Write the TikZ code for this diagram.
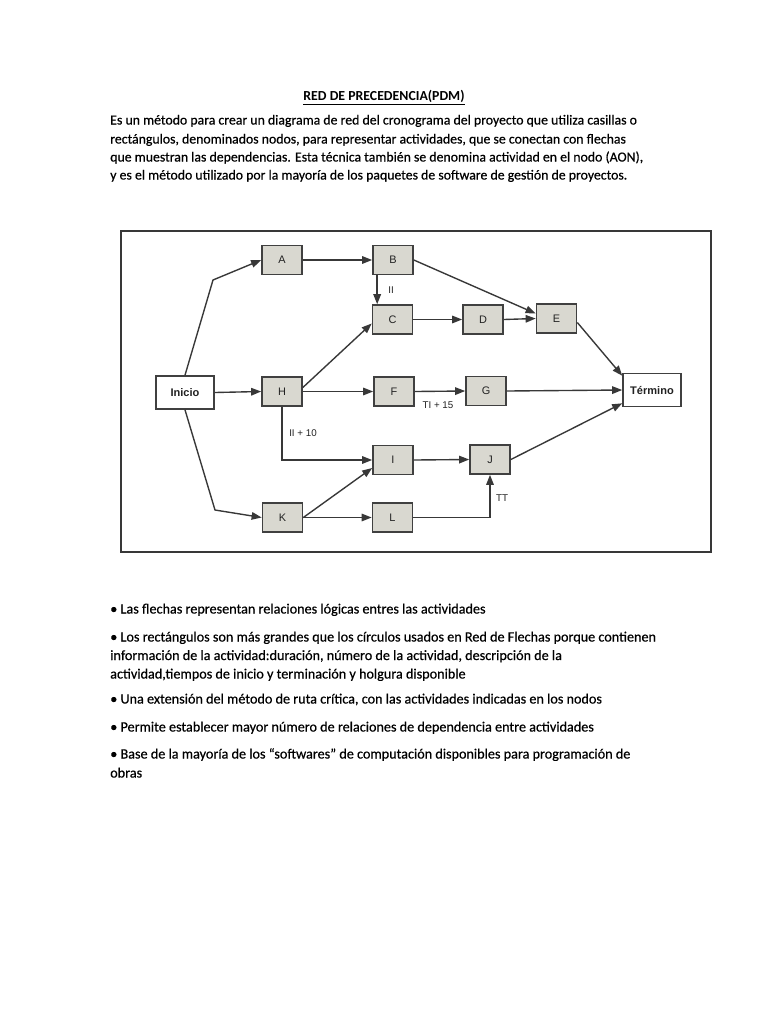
\documentclass[tikz,border=0pt]{standalone}
\usepackage{fontspec}
\setmainfont{Carlito}
\newfontfamily\scanfont{Carlito}[FakeBold=0.5]
\newfontfamily\arialf{Liberation Sans}
\usetikzlibrary{arrows.meta,calc}
\definecolor{boxfill}{HTML}{D9D8D0}
\definecolor{boxline}{HTML}{404040}
\definecolor{arrc}{HTML}{383838}
\definecolor{txtc}{HTML}{222222}
\begin{document}
\begin{tikzpicture}[x=0.797pt,y=0.797pt,
  act/.style={draw=boxline, fill=boxfill, line width=1.3pt, minimum width=31.9pt, minimum height=23.1pt, inner sep=0pt, font=\arialf\fontsize{8.7}{10}\selectfont, text=txtc},
  term/.style={act, fill=white, minimum width=46.2pt, minimum height=26.3pt, font=\arialf\bfseries\fontsize{8.8}{10}\selectfont},
  arr/.style={draw=arrc, line width=1.1pt, -{Stealth[length=8pt,width=6pt,inset=0pt]}},
  lbl/.style={font=\arialf\fontsize{7.8}{9}\selectfont, text=txtc, inner sep=0pt},
  body/.style={anchor=base west, inner sep=0pt, font=\scanfont\fontsize{11}{13}\selectfont},
  bul/.style={anchor=base west, inner sep=0pt, font=\scanfont\fontsize{11.3}{13}\selectfont},
  titl/.style={anchor=base, inner sep=0pt, font=\bfseries\fontsize{11}{13}\selectfont}]
\useasboundingbox[fill=white] (0,0) rectangle (768,-1024);

% title and intro text
\node[titl] (title) at (384,-100.5) {\underline{RED DE PRECEDENCIA(PDM)}};
\node[body] (t1) at (110,-124.5) {Es un método para crear un diagrama de red del cronograma del proyecto que utiliza casillas o};
\node[body] (t2) at (110,-143.5) {rectángulos, denominados nodos, para representar actividades, que se conectan con flechas};
\node[body] (t3) at (110,-161.5) {que muestran las dependencias. Esta técnica también se denomina actividad en el nodo (AON),};
\node[body] (t4) at (110,-179.5) {y es el método utilizado por la mayoría de los paquetes de software de gestión de proyectos.};

% frame
\draw[draw=arrc, line width=1.3pt] (121,-231) rectangle (711,-552);

% nodes
\node[act] (A) at (282,-260) {A};
\node[act] (B) at (393,-260) {B};
\node[act] (C) at (392.5,-319.5) {C};
\node[act] (D) at (483,-319.5) {D};
\node[act] (E) at (556.5,-318.5) {E};
\node[term] (T) at (652,-390) {Término};
\node[term] (In) at (185,-392.5) {Inicio};
\node[act] (H) at (282,-391.5) {H};
\node[act] (F) at (394,-391.5) {F};
\node[act] (G) at (486,-391) {G};
\node[act] (I) at (393,-460) {I};
\node[act] (J) at (490,-459.5) {J};
\node[act] (K) at (282.5,-517.5) {K};
\node[act] (L) at (392.5,-517.5) {L};

% bend points
\coordinate (p1) at (213,-280);
\coordinate (p2) at (215,-510);
\coordinate (b1) at ($(B.south west)+(5,0)$);

% connectors
\draw[arr] (In.north) -- (p1) -- (A.west);
\draw[arr] (In.east) -- (H.west);
\draw[arr] (In.south) -- (p2) -- (K.west);
\draw[arr] (A.east) -- (B.west);
\draw[arr] (b1) -- (b1 |- C.north);
\draw[arr] (B.east) -- ($(E.west)+(0,5)$);
\draw[arr] (C.east) -- (D.west);
\draw[arr] (D.east) -- (E.west);
\draw[arr] ($(E.east)+(0,-4)$) -- ($(T.north west)+(0,-3)$);
\draw[arr] ($(H.east)+(0,4)$) -- ($(C.west)+(0,-4)$);
\draw[arr] (H.east) -- (F.west);
\draw[arr] (H.south) |- (I.west);
\draw[arr] (F.east) -- (G.west);
\draw[arr] (G.east) -- (T.west);
\draw[arr] (I.east) -- (J.west);
\draw[arr] (J.east) -- ($(T.south west)+(0,4)$);
\draw[arr] (K.east) -- ($(I.west)+(0,-8)$);
\draw[arr] (K.east) -- (L.west);
\draw[arr] (L.east) -| (J.south);

% connector labels
\node[lbl] (l1) at (391,-290) {II};
\node[lbl] (l2) at (303,-433) {II + 10};
\node[lbl] (l3) at (438,-405) {TI + 15};
\node[lbl] (l4) at (502,-498) {TT};

% bullets
\node[bul] (u1) at (110,-613.5) {• Las flechas representan relaciones lógicas entres las actividades};
\node[bul] (u2) at (110,-641.5) {• Los rectángulos son más grandes que los círculos usados en Red de Flechas porque contienen};
\node[bul] (u2b) at (110,-660) {información de la actividad:duración, número de la actividad, descripción de la};
\node[bul] (u2c) at (110,-678.5) {actividad,tiempos de inicio y terminación y holgura disponible};
\node[bul] (u3) at (110,-703.5) {• Una extensión del método de ruta crítica, con las actividades indicadas en los nodos};
\node[bul] (u4) at (110,-731.5) {• Permite establecer mayor número de relaciones de dependencia entre actividades};
\node[bul] (u5) at (110,-758.5) {• Base de la mayoría de los “softwares” de computación disponibles para programación de};
\node[bul] (u5b) at (110,-777.5) {obras};
\end{tikzpicture}
\end{document}
